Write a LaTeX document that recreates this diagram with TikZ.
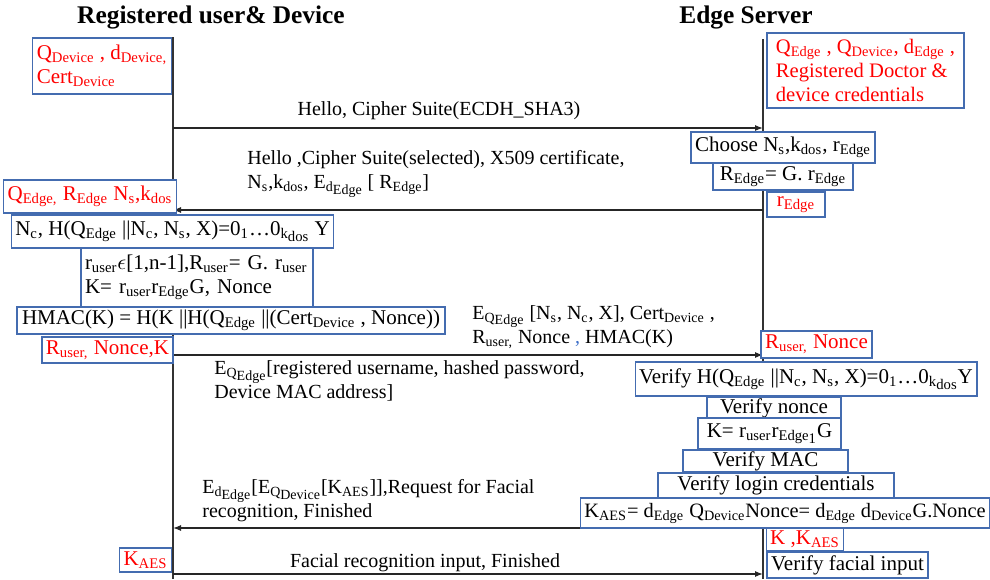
\documentclass[tikz,border=0pt]{standalone}
\usepackage{fontspec}
\setmainfont{Liberation Serif}
\usepackage{tikz}
\usetikzlibrary{arrows.meta}
\usepackage{xcolor}

\definecolor{boxblue}{RGB}{68,108,176}
\definecolor{keyred}{RGB}{255,0,0}
\definecolor{commablue}{RGB}{60,110,200}
\newcommand{\sbs}[1]{\textsubscript{#1}}
\newcommand{\ssbs}[1]{\raisebox{-0.4ex}{#1}}

\tikzset{
    stepbox/.style={draw=boxblue, line width=0.6pt, fill=white, inner xsep=2pt, inner ysep=0.5pt, align=center, font=\fontsize{10.5}{12}\selectfont},
    keybox/.style={stepbox, text=keyred},
    msg/.style={line width=0.6pt, black!85, -{Latex[length=4pt,width=3pt]}},
    life/.style={line width=0.7pt, black!80},
    msglabel/.style={inner sep=0pt, align=left},
    party/.style={font=\fontsize{12.7}{15}\selectfont\bfseries}
}

\begin{document}
\begin{tikzpicture}[x=0.5pt, y=-0.5pt, font=\fontsize{10}{12}\selectfont]
    \useasboundingbox (0,0) rectangle (990,579);

    % Parties and lifelines
    \node[party] (devTitle) at (211,17) {Registered user\& Device};
    \node[party] (edgeTitle) at (746,17) {Edge Server};
    \coordinate (devTop) at (173,37);
    \coordinate (devEnd) at (173,579);
    \coordinate (edgeTop) at (763,39);
    \coordinate (edgeEnd) at (763,579);
    \draw[life] (devTop) -- (devEnd);
    \draw[life] (edgeTop) -- (edgeEnd);

    % Messages
    \foreach \m/\y in {1/128, 2/210, 3/355, 4/528, 5/574} {
        \coordinate (d\m) at (173,\y);
        \coordinate (e\m) at (763,\y);
    }
    \draw[msg] (d1) -- (e1);
    \draw[msg] (e2) -- (d2);
    \draw[msg] (d3) -- (e3);
    \draw[msg] (e4) -- (d4);
    \draw[msg] (d5) -- (e5);

    \node[msglabel] (helloLbl) at (439,111) {Hello, Cipher Suite(ECDH\_SHA3)};
    \node[msglabel, anchor=west] (serverHelloLbl) at (247,174) {Hello ,Cipher Suite(selected), X509 certificate,\\N\sbs{s},k\sbs{dos}, E\sbs{d\ssbs{Edge}} [ R\sbs{Edge}]};
    \node[msglabel, anchor=west] (clientKeyLbl) at (472,327) {E\sbs{Q\ssbs{Edge}} [N\sbs{s}, N\sbs{c}, X], Cert\sbs{Device} ,\\R\sbs{user,} Nonce \textcolor{commablue}{,} HMAC(K)};
    \node[msglabel, anchor=west] (loginLbl) at (214,381) {E\sbs{Q\ssbs{Edge}}[registered username, hashed password,\\Device MAC address]};
    \node[msglabel, anchor=west] (faceReqLbl) at (202,501) {E\sbs{d\ssbs{Edge}}[E\sbs{Q\ssbs{Device}}[K\sbs{AES}]],Request for Facial\\recognition, Finished};
    \node[msglabel] (faceLbl) at (425,563) {Facial recognition input, Finished};

    % Device side
    \node[keybox, align=left, minimum width=69pt, minimum height=28pt] (devInit) at (102,66) {Q\sbs{Device}\ , d\sbs{Device,}\\Cert\sbs{Device}};
    \node[keybox, minimum width=80pt, minimum height=16.5pt] (devRecv) at (90,196.5) {Q\sbs{Edge,} R\sbs{Edge} N\sbs{s},k\sbs{dos}};
    \node[stepbox, minimum width=160.5pt, minimum height=16.5pt] (puzzle) at (172.5,231.5) {N\sbs{c}, H(Q\sbs{Edge} ||N\sbs{c}, N\sbs{s}, X)=0\sbs{1}…0\sbs{k\ssbs{dos}} Y};
    \node[stepbox, align=left, text width=112pt, minimum height=29.5pt] (keyGen) at (197,277.5) {r\sbs{user}$\epsilon$[1,n-1],R\sbs{user}= G. r\sbs{user}\\K= r\sbs{user}r\sbs{Edge}G, Nonce};
    \node[stepbox, minimum width=214pt, minimum height=13.5pt] (hmac) at (231,320.5) {HMAC(K) = H(K ||H(Q\sbs{Edge} ||(Cert\sbs{Device} , Nonce))};
    \node[keybox, minimum width=64.5pt, minimum height=13pt] (devStore) at (107.5,350) {R\sbs{user,} Nonce,K};
    \node[keybox, minimum width=24.5pt, minimum height=12pt] (devKaes) at (145.5,560) {K\sbs{AES}};

    % Edge server side
    \node[keybox, align=left, inner xsep=1pt, minimum width=98.5pt, minimum height=37.5pt, font=\fontsize{10.3}{12}\selectfont] (edgeInit) at (865.5,70.5) {Q\sbs{Edge} , Q\sbs{Device}, d\sbs{Edge} ,\\Registered Doctor \&\\device credentials};
    \node[stepbox, minimum width=91pt, minimum height=15.5pt] (choose) at (783,147.5) {Choose N\sbs{s},k\sbs{dos}, r\sbs{Edge}};
    \node[stepbox, minimum width=70pt, minimum height=13.5pt] (rEdgeCalc) at (783,176.5) {R\sbs{Edge}= G. r\sbs{Edge}};
    \node[keybox, minimum width=29pt, minimum height=12.5pt] (rEdge) at (796,204.5) {r\sbs{Edge}};
    \node[keybox, minimum width=55.5pt, minimum height=13.5pt] (edgeStore) at (816.5,344.5) {R\sbs{user,} Nonce};
    \node[stepbox, minimum width=165pt, minimum height=17pt] (verifyH) at (806,379) {Verify H(Q\sbs{Edge} ||N\sbs{c}, N\sbs{s}, X)=0\sbs{1}…0\sbs{k\ssbs{dos}}Y};
    \node[stepbox, minimum width=67pt, minimum height=10pt] (verifyNonce) at (774,408) {Verify nonce};
    \node[stepbox, minimum width=71.5pt, minimum height=15.5pt] (kEdge) at (769.5,433.5) {K= r\sbs{user}r\sbs{Edge\ssbs{1}}G};
    \node[stepbox, minimum width=82.5pt, minimum height=11pt] (verifyMac) at (765.5,461) {Verify MAC};
    \node[stepbox, minimum width=118pt, minimum height=12.5pt] (verifyLogin) at (776,485.5) {Verify login credentials};
    \node[stepbox, minimum width=203pt, minimum height=15pt, font=\fontsize{10.2}{12}\selectfont] (kAes) at (785,513) {K\sbs{AES}= d\sbs{Edge} Q\sbs{Device}Nonce= d\sbs{Edge} d\sbs{Device}G.Nonce};
    \node[keybox, minimum width=37pt, minimum height=11.5pt] (edgeKeys) at (805,539.5) {K ,K\sbs{AES}};
    \node[stepbox, minimum width=80.5pt, minimum height=13pt] (verifyFace) at (847.5,565) {Verify facial input};
\end{tikzpicture}
\end{document}
